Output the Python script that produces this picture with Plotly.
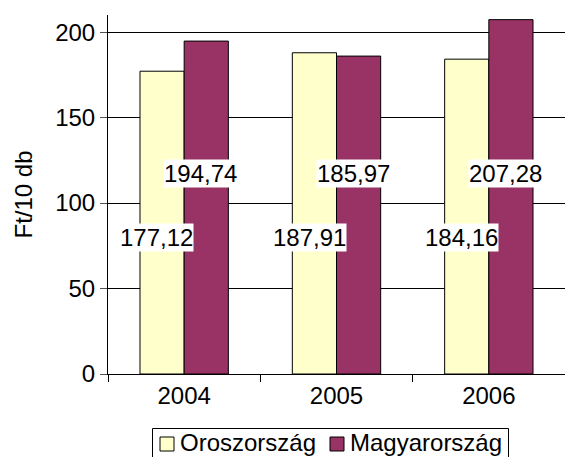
import plotly.graph_objects as go

years = ["2004", "2005", "2006"]
oroszorszag = [177.12, 187.91, 184.16]
magyarorszag = [194.74, 185.97, 207.28]
label_or = ["177,12", "187,91", "184,16"]
label_hu = ["194,74", "185,97", "207,28"]
y_ticks = [0, 50, 100, 150, 200]
series_names = ["Oroszország", "Magyarország"]
series_colors = ["#FFFFCC", "#993366"]

font = dict(family="Liberation Sans, Arial, sans-serif", size=24, color="black")

fig = go.Figure()
fig.add_trace(go.Bar(name=series_names[0], x=years, y=oroszorszag,
                     marker=dict(color=series_colors[0], line=dict(color="black", width=1))))
fig.add_trace(go.Bar(name=series_names[1], x=years, y=magyarorszag,
                     marker=dict(color=series_colors[1], line=dict(color="black", width=1))))

for i in range(len(years)):
    fig.add_annotation(x=i - 0.18, y=80, xref="x", yref="y", text=label_or[i],
                       showarrow=False, bgcolor="white", font=font, borderpad=0)
    fig.add_annotation(x=i + 0.11, y=117, xref="x", yref="y", text=label_hu[i],
                       showarrow=False, bgcolor="white", font=font, borderpad=0)

# custom compact legend (pixel layout -> paper coords)
L, T, W, H = 108, 15, 457, 359
def px(x):
    return (x - L) / W
def py(y):
    return (T + H - y) / H

fig.add_shape(type="rect", xref="paper", yref="paper",
              x0=px(152.5), x1=px(508.5), y0=py(470), y1=py(428.5),
              line=dict(color="black", width=1), fillcolor="white", layer="above")
sq_x = [160, 330]
txt_x = [178, 348]
for k in range(2):
    fig.add_shape(type="rect", xref="paper", yref="paper",
                  x0=px(sq_x[k]), x1=px(sq_x[k] + 14), y0=py(451), y1=py(437),
                  line=dict(color="black", width=1), fillcolor=series_colors[k], layer="above")
    fig.add_annotation(xref="paper", yref="paper", x=px(txt_x[k]), y=py(442),
                       xanchor="left", yanchor="middle", text=series_names[k],
                       showarrow=False, font=font)

fig.update_layout(
    width=565, height=457,
    margin=dict(l=L, r=0, t=T, b=457 - T - H, autoexpand=False),
    paper_bgcolor="white", plot_bgcolor="white",
    font=font,
    barmode="group", bargap=0.42, bargroupgap=0,
    showlegend=False,
    xaxis=dict(type="category", showline=True, linecolor="black", linewidth=1,
               ticks="outside", tickson="boundaries", ticklen=7, tickcolor="black",
               showgrid=False, tickfont=font),
    yaxis=dict(range=[0, 210], tickvals=y_ticks, showline=True, linecolor="black",
               linewidth=1, ticks="outside", ticklen=7, tickcolor="#555555",
               showgrid=True, gridcolor="black", gridwidth=1, zeroline=False,
               tickfont=font, title=dict(text="Ft/10 db", font=font, standoff=15)),
)

fig.write_html("out.html", config={"displayModeBar": False},
               post_script="document.body.style.margin='0';")
